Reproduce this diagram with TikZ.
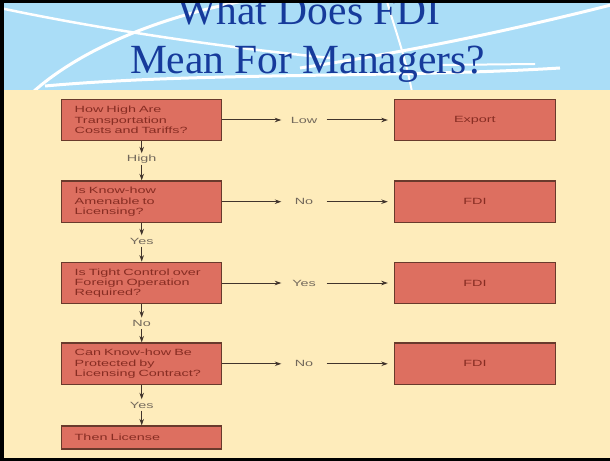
\documentclass[tikz,border=0pt]{standalone}
\usepackage{fontspec}
\setmainfont{Liberation Serif}
\newfontfamily\chartfont[FakeStretch=1.6]{Liberation Sans}
\usetikzlibrary{arrows.meta}
\definecolor{slideblue}{RGB}{170,221,247}
\definecolor{slidecream}{RGB}{254,236,187}
\definecolor{titleblue}{RGB}{22,58,155}
\definecolor{boxred}{RGB}{221,111,96}
\definecolor{boxedge}{RGB}{105,58,44}
\definecolor{boxtext}{RGB}{135,45,35}
\definecolor{labelgray}{RGB}{115,105,92}
\definecolor{linebrown}{RGB}{65,52,44}

\begin{document}
\begin{tikzpicture}[
    x=1bp, y=-1bp,
    >={Stealth[length=6.5bp,width=4.5bp]},
    headline/.style={anchor=base, inner sep=0pt, text=titleblue, font=\fontsize{41.5bp}{49bp}\selectfont},
    question/.style={draw=boxedge, line width=1.2bp, fill=boxred, minimum width=160bp, minimum height=41.5bp, text width=134bp, inner sep=0pt, align=left, text=boxtext, font=\chartfont\fontsize{9bp}{10.3bp}\selectfont},
    answer/.style={draw=boxedge, line width=1.2bp, fill=boxred, minimum width=161bp, minimum height=41.5bp, inner sep=0pt, text=boxtext, font=\chartfont\fontsize{9bp}{10.3bp}\selectfont},
    choice/.style={minimum width=45bp, inner sep=0pt, text=labelgray, font=\chartfont\fontsize{9bp}{10.3bp}\selectfont},
    vchoice/.style={minimum height=11bp, inner sep=0pt, text=labelgray, font=\chartfont\fontsize{9bp}{10.3bp}\selectfont},
    flow/.style={->, draw=linebrown, line width=1bp}
]
  \useasboundingbox (0,0) rectangle (610,461);

  % Slide background
  \fill[slidecream] (0,0) rectangle (610,461);
  \fill[slideblue] (0,0) rectangle (610,90);
  \begin{scope}
    \clip (0,0) rectangle (610,90);
    \draw[white, line width=3bp] (33,92) .. controls (80,50) and (160,15) .. (260,-2);
    \draw[white, line width=2.5bp] (0,8) .. controls (80,25) and (200,45) .. (330,58);
    \draw[white, line width=3bp] (45,86) .. controls (200,72) and (400,78) .. (560,68);
    \draw[white, line width=3bp] (615,4) .. controls (520,28) and (420,50) .. (300,68);
    \draw[white, line width=2bp] (386,-2) .. controls (395,30) and (405,55) .. (412,92);
    \draw[white, line width=2bp] (440,65) -- (535,64);
  \end{scope}

  % Title
  \node[headline] (t1) at (309,25) {What Does FDI};
  \node[headline] (t2) at (307.5,74) {Mean For Managers?};

  % Decision column
  \node[question] (q1) at (141.7,120) {How High Are\\Transportation\\Costs and Tariffs?};
  \node[question] (q2) at (141.7,201.7) {Is Know-how\\Amenable to\\Licensing?};
  \node[question] (q3) at (141.7,283) {Is Tight Control over\\Foreign Operation\\Required?};
  \node[question] (q4) at (141.7,363.8) {Can Know-how Be\\Protected by\\Licensing Contract?};
  \node[question, minimum height=23bp] (q5) at (141.7,437.5) {Then License};

  % Outcomes
  \node[answer] (a1) at (474.9,120) {Export};
  \node[answer] (a2) at (474.9,201.7) {FDI};
  \node[answer] (a3) at (474.9,283) {FDI};
  \node[answer] (a4) at (474.9,363.8) {FDI};

  % Branch labels
  \node[choice] (l1) at (304,120) {Low};
  \node[choice] (l2) at (304,201.7) {No};
  \node[choice] (l3) at (304,283) {Yes};
  \node[choice] (l4) at (304,363.8) {No};
  \node[vchoice] (d1) at (141.7,159) {High};
  \node[vchoice] (d2) at (141.7,241) {Yes};
  \node[vchoice] (d3) at (141.7,323.3) {No};
  \node[vchoice] (d4) at (141.7,405) {Yes};

  % Arrows
  \draw[flow] (q1) -- (l1);
  \draw[flow, shorten >=6bp] (l1) -- (a1);
  \draw[flow] (q2) -- (l2);
  \draw[flow, shorten >=6bp] (l2) -- (a2);
  \draw[flow] (q3) -- (l3);
  \draw[flow, shorten >=6bp] (l3) -- (a3);
  \draw[flow] (q4) -- (l4);
  \draw[flow, shorten >=6bp] (l4) -- (a4);
  \draw[flow] (q1) -- (d1);
  \draw[flow] (d1) -- (q2);
  \draw[flow] (q2) -- (d2);
  \draw[flow] (d2) -- (q3);
  \draw[flow] (q3) -- (d3);
  \draw[flow] (d3) -- (q4);
  \draw[flow] (q4) -- (d4);
  \draw[flow] (d4) -- (q5);

  % Frame
  \draw[black, line width=3.5bp] (610,1.75) -- (1.75,1.75) -- (1.75,459.25) -- (610,459.25);
\end{tikzpicture}
\end{document}
